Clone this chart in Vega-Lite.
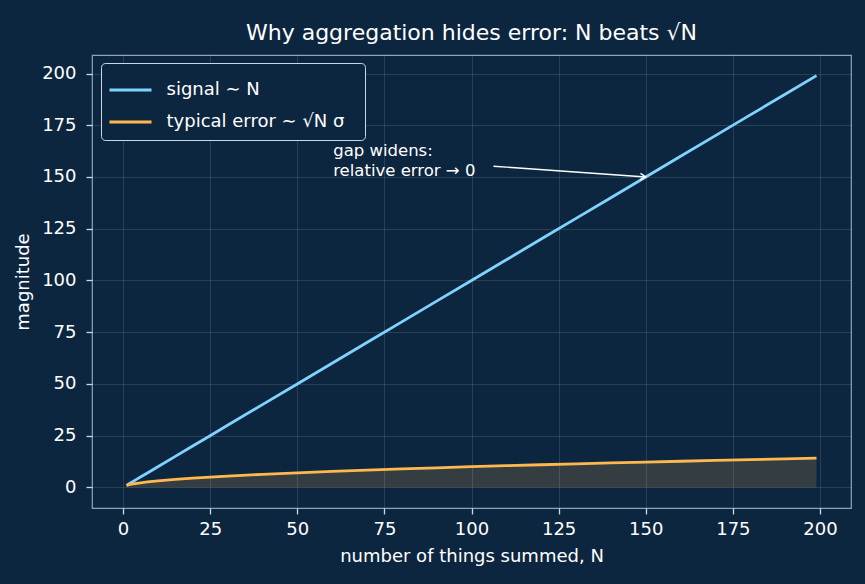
{
  "$schema": "https://vega.github.io/schema/vega-lite/v6.json",
  "width": 759,
  "height": 453,
  "autosize": {"type": "none"},
  "padding": {"left": 92, "top": 55, "right": 14, "bottom": 76},
  "background": "#0c2640",
  "title": {
    "text": "Why aggregation hides error: N beats √N",
    "fontSize": 22,
    "font": "DejaVu Sans",
    "fontWeight": "normal",
    "color": "#ffffff",
    "offset": 10
  },
  "config": {
    "view": {"stroke": "#8ea3b8", "strokeWidth": 1.2, "fill": "#0c2640"},
    "font": "DejaVu Sans",
    "axis": {
      "labelFont": "DejaVu Sans",
      "titleFont": "DejaVu Sans",
      "labelColor": "#ffffff",
      "labelFontSize": 18,
      "titleColor": "#ffffff",
      "titleFontSize": 18,
      "titleFontWeight": "normal",
      "tickColor": "#c8d8e8",
      "tickSize": 6,
      "tickWidth": 1.3,
      "domain": false,
      "gridColor": "#ffffff",
      "gridOpacity": 0.15,
      "gridWidth": 0.8
    }
  },
  "data": {
    "values": [
      {"N": 1, "signal": 1, "error": 1.0},
      {"N": 2, "signal": 2, "error": 1.414},
      {"N": 3, "signal": 3, "error": 1.732},
      {"N": 4, "signal": 4, "error": 2.0},
      {"N": 5, "signal": 5, "error": 2.236},
      {"N": 7, "signal": 7, "error": 2.646},
      {"N": 10, "signal": 10, "error": 3.162},
      {"N": 15, "signal": 15, "error": 3.873},
      {"N": 20, "signal": 20, "error": 4.472},
      {"N": 25, "signal": 25, "error": 5.0},
      {"N": 30, "signal": 30, "error": 5.477},
      {"N": 40, "signal": 40, "error": 6.325},
      {"N": 50, "signal": 50, "error": 7.071},
      {"N": 60, "signal": 60, "error": 7.746},
      {"N": 70, "signal": 70, "error": 8.367},
      {"N": 80, "signal": 80, "error": 8.944},
      {"N": 90, "signal": 90, "error": 9.487},
      {"N": 100, "signal": 100, "error": 10.0},
      {"N": 110, "signal": 110, "error": 10.488},
      {"N": 120, "signal": 120, "error": 10.954},
      {"N": 130, "signal": 130, "error": 11.402},
      {"N": 140, "signal": 140, "error": 11.832},
      {"N": 150, "signal": 150, "error": 12.247},
      {"N": 160, "signal": 160, "error": 12.649},
      {"N": 170, "signal": 170, "error": 13.038},
      {"N": 180, "signal": 180, "error": 13.416},
      {"N": 190, "signal": 190, "error": 13.784},
      {"N": 199, "signal": 199, "error": 14.107}
    ]
  },
  "layer": [
    {
      "mark": {"type": "area", "color": "#ffb84d", "opacity": 0.17},
      "encoding": {
        "x": {"field": "N", "type": "quantitative"},
        "y": {"field": "error", "type": "quantitative"}
      }
    },
    {
      "transform": [{"fold": ["signal", "error"], "as": ["series", "value"]}],
      "mark": {"type": "line", "strokeWidth": 2.8},
      "encoding": {
        "x": {
          "field": "N",
          "type": "quantitative",
          "scale": {"domain": [-8.9, 208.9], "nice": false, "zero": false},
          "axis": {"values": [0, 25, 50, 75, 100, 125, 150, 175, 200], "title": "number of things summed, N", "labelPadding": 6, "titlePadding": 9}
        },
        "y": {
          "field": "value",
          "type": "quantitative",
          "scale": {"domain": [-9.95, 208.95], "nice": false, "zero": false},
          "axis": {"values": [0, 25, 50, 75, 100, 125, 150, 175, 200], "title": "magnitude", "labelPadding": 10, "titlePadding": 9}
        },
        "color": {
          "field": "series",
          "type": "nominal",
          "scale": {"domain": ["signal", "error"], "range": ["#80d2ff", "#ffb84d"]},
          "legend": {
            "title": " ",
            "titleFontSize": 1,
            "titlePadding": 1,
            "orient": "none",
            "legendX": 9,
            "legendY": 8,
            "labelExpr": "datum.value == 'signal' ? 'signal  ∼ N' : 'typical error  ∼ √N  σ'",
            "labelColor": "#ffffff",
            "labelFont": "DejaVu Sans",
            "labelFontSize": 18,
            "labelOffset": 20,
            "labelLimit": 400,
            "symbolType": "M-1.45,0H1.45",
            "symbolSize": 841,
            "symbolOffset": 4.5,
            "symbolStrokeWidth": 3,
            "rowPadding": 7,
            "padding": 9,
            "strokeColor": "#c8d8e8",
            "fillColor": "#0c2640",
            "cornerRadius": 4
          }
        }
      }
    },
    {
      "data": {"values": [{"x": 106.3, "y": 155.2, "x2": 150, "y2": 150}]},
      "mark": {"type": "rule", "color": "#ffffff", "strokeWidth": 1.4},
      "encoding": {
        "x": {"field": "x", "type": "quantitative"},
        "y": {"field": "y", "type": "quantitative"},
        "x2": {"field": "x2"},
        "y2": {"field": "y2"}
      }
    },
    {
      "data": {"values": [{"x": 150, "y": 150}]},
      "mark": {"type": "point", "shape": "M-1,-0.6L0,0L-1,0.6", "filled": false, "stroke": "#ffffff", "strokeWidth": 1.4, "size": 120, "angle": 4, "opacity": 1},
      "encoding": {
        "x": {"field": "x", "type": "quantitative"},
        "y": {"field": "y", "type": "quantitative"}
      }
    },
    {
      "data": {"values": [{"x": 60.3, "y": 166.5, "label": ["gap widens:", "relative error  →  0"]}]},
      "mark": {"type": "text", "align": "left", "baseline": "top", "color": "#ffffff", "font": "DejaVu Sans", "fontSize": 16.5, "lineHeight": 20},
      "encoding": {
        "x": {"field": "x", "type": "quantitative"},
        "y": {"field": "y", "type": "quantitative"},
        "text": {"field": "label"}
      }
    }
  ]
}
